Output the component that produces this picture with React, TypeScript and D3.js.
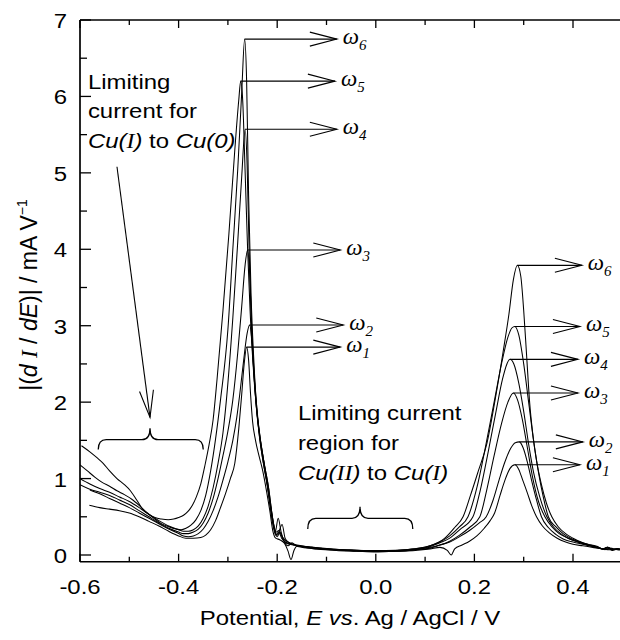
import React from "react";
import * as d3 from "d3";

// ---------- data ----------
const xTickValues = [-0.6, -0.5, -0.4, -0.3, -0.2, -0.1, 0.0, 0.1, 0.2, 0.3, 0.4, 0.5];
const xTickLabels = ["-0.6", "-0.4", "-0.2", "0.0", "0.2", "0.4"];
const xLabelValues = [-0.6, -0.4, -0.2, 0.0, 0.2, 0.4];
const yTickValues = [0, 0.5, 1, 1.5, 2, 2.5, 3, 3.5, 4, 4.5, 5, 5.5, 6, 6.5, 7];
const yTickLabels = ["0", "1", "2", "3", "4", "5", "6", "7"];

const seriesNames = ["1", "2", "3", "4", "5", "6"];

const w1: [number, number][] = [[-0.581,0.65],[-0.56,0.62],[-0.54,0.6],[-0.52,0.58],[-0.50,0.55],[-0.48,0.5],[-0.46,0.44],[-0.44,0.38],[-0.42,0.31],[-0.40,0.25],[-0.385,0.22],[-0.37,0.22],[-0.355,0.23],[-0.345,0.26],[-0.335,0.33],[-0.325,0.45],[-0.315,0.62],[-0.305,0.80],[-0.295,1.0],[-0.286,1.2],[-0.278,1.65],[-0.272,2.1],[-0.267,2.5],[-0.262,2.72],[-0.258,2.55],[-0.254,2.1],[-0.250,1.75],[-0.244,1.5],[-0.237,1.3],[-0.230,1.12],[-0.222,0.85],[-0.215,0.58],[-0.209,0.32],[-0.203,0.22],[-0.195,0.2],[-0.185,0.15],[-0.178,0.05],[-0.172,-0.06],[-0.166,0.06],[-0.158,0.12],[-0.145,0.10],[-0.12,0.08],[-0.08,0.06],[-0.04,0.05],[0.0,0.04],[0.04,0.05],[0.08,0.06],[0.11,0.08],[0.13,0.1],[0.145,0.06],[0.153,0.0],[0.16,0.08],[0.175,0.13],[0.19,0.18],[0.205,0.25],[0.22,0.35],[0.232,0.45],[0.241,0.55],[0.252,0.78],[0.262,0.98],[0.272,1.13],[0.282,1.18],[0.290,1.12],[0.298,0.98],[0.307,0.82],[0.316,0.65],[0.326,0.5],[0.338,0.38],[0.352,0.29],[0.368,0.22],[0.385,0.17],[0.40,0.14],[0.42,0.12],[0.44,0.10],[0.46,0.08],[0.475,0.07],[0.49,0.08],[0.50,0.07]];

const w2: [number, number][] = [[-0.58,0.85],[-0.56,0.80],[-0.54,0.74],[-0.52,0.68],[-0.50,0.62],[-0.48,0.55],[-0.46,0.48],[-0.44,0.41],[-0.42,0.34],[-0.40,0.28],[-0.39,0.25],[-0.38,0.24],[-0.37,0.25],[-0.36,0.28],[-0.35,0.34],[-0.34,0.44],[-0.33,0.58],[-0.32,0.76],[-0.31,0.98],[-0.30,1.22],[-0.29,1.5],[-0.282,1.8],[-0.276,2.1],[-0.268,2.55],[-0.261,2.9],[-0.256,3.01],[-0.252,2.85],[-0.248,2.45],[-0.243,2.0],[-0.236,1.6],[-0.229,1.3],[-0.222,1.0],[-0.215,0.7],[-0.209,0.42],[-0.204,0.3],[-0.198,0.48],[-0.192,0.3],[-0.186,0.18],[-0.178,0.12],[-0.17,0.16],[-0.162,0.12],[-0.15,0.1],[-0.12,0.08],[-0.08,0.07],[-0.04,0.05],[0.0,0.05],[0.04,0.05],[0.08,0.07],[0.11,0.09],[0.13,0.13],[0.15,0.17],[0.17,0.24],[0.19,0.32],[0.21,0.42],[0.224,0.5],[0.238,0.72],[0.25,0.98],[0.262,1.22],[0.274,1.4],[0.283,1.47],[0.291,1.48],[0.299,1.4],[0.308,1.2],[0.317,0.95],[0.326,0.72],[0.336,0.5],[0.35,0.36],[0.365,0.27],[0.38,0.21],[0.40,0.17],[0.42,0.14],[0.44,0.11],[0.46,0.08],[0.47,0.09],[0.48,0.06],[0.49,0.08],[0.50,0.07]];

const w3: [number, number][] = [[-0.6,0.92],[-0.58,0.86],[-0.56,0.82],[-0.54,0.78],[-0.52,0.72],[-0.50,0.66],[-0.48,0.58],[-0.46,0.5],[-0.44,0.42],[-0.42,0.35],[-0.40,0.30],[-0.39,0.28],[-0.38,0.28],[-0.37,0.30],[-0.36,0.34],[-0.35,0.42],[-0.34,0.55],[-0.33,0.74],[-0.32,1.0],[-0.31,1.3],[-0.30,1.62],[-0.29,2.03],[-0.28,2.65],[-0.272,3.25],[-0.265,3.8],[-0.26,3.99],[-0.256,3.7],[-0.252,3.0],[-0.247,2.4],[-0.241,1.9],[-0.234,1.5],[-0.226,1.18],[-0.218,0.9],[-0.212,0.6],[-0.206,0.35],[-0.2,0.26],[-0.19,0.40],[-0.184,0.22],[-0.176,0.16],[-0.165,0.13],[-0.15,0.11],[-0.12,0.09],[-0.08,0.07],[-0.04,0.06],[0.0,0.05],[0.04,0.05],[0.08,0.07],[0.11,0.1],[0.13,0.13],[0.15,0.18],[0.17,0.26],[0.19,0.36],[0.211,0.5],[0.225,0.85],[0.24,1.3],[0.255,1.72],[0.268,2.0],[0.279,2.12],[0.288,2.02],[0.297,1.78],[0.307,1.42],[0.318,1.02],[0.33,0.7],[0.343,0.5],[0.357,0.37],[0.372,0.28],[0.39,0.22],[0.41,0.17],[0.43,0.13],[0.45,0.1],[0.465,0.07],[0.475,0.09],[0.49,0.07],[0.5,0.06]];

const w4: [number, number][] = [[-0.6,1.0],[-0.58,0.93],[-0.56,0.87],[-0.54,0.82],[-0.52,0.76],[-0.50,0.70],[-0.48,0.62],[-0.46,0.53],[-0.44,0.45],[-0.42,0.38],[-0.40,0.33],[-0.39,0.31],[-0.38,0.31],[-0.37,0.33],[-0.36,0.38],[-0.35,0.48],[-0.34,0.64],[-0.33,0.88],[-0.32,1.2],[-0.31,1.6],[-0.303,2.03],[-0.29,3.1],[-0.28,4.1],[-0.272,4.95],[-0.265,5.57],[-0.261,5.1],[-0.257,4.0],[-0.252,3.0],[-0.247,2.35],[-0.241,1.85],[-0.233,1.45],[-0.225,1.15],[-0.217,0.86],[-0.211,0.56],[-0.205,0.32],[-0.2,0.24],[-0.194,0.3],[-0.188,0.2],[-0.18,0.15],[-0.165,0.13],[-0.15,0.11],[-0.12,0.09],[-0.08,0.07],[-0.04,0.06],[0.0,0.05],[0.04,0.06],[0.08,0.07],[0.11,0.11],[0.13,0.16],[0.15,0.22],[0.17,0.33],[0.197,0.5],[0.212,0.85],[0.228,1.35],[0.243,1.85],[0.257,2.3],[0.266,2.5],[0.272,2.56],[0.28,2.5],[0.29,2.25],[0.30,1.88],[0.31,1.45],[0.32,1.08],[0.333,0.75],[0.347,0.5],[0.36,0.37],[0.375,0.28],[0.39,0.22],[0.41,0.17],[0.43,0.13],[0.45,0.1],[0.46,0.08],[0.47,0.1],[0.48,0.07],[0.49,0.08],[0.5,0.07]];

const w5: [number, number][] = [[-0.597,1.43],[-0.58,1.35],[-0.565,1.27],[-0.553,1.2],[-0.54,1.1],[-0.525,1.0],[-0.51,0.92],[-0.499,0.85],[-0.485,0.72],[-0.472,0.59],[-0.46,0.53],[-0.448,0.49],[-0.435,0.47],[-0.421,0.46],[-0.41,0.47],[-0.40,0.49],[-0.39,0.52],[-0.381,0.57],[-0.372,0.65],[-0.364,0.76],[-0.355,0.93],[-0.347,1.16],[-0.338,1.45],[-0.33,1.77],[-0.322,2.3],[-0.31,3.2],[-0.298,4.2],[-0.286,5.3],[-0.278,5.95],[-0.274,6.2],[-0.27,5.95],[-0.265,5.0],[-0.26,4.0],[-0.255,3.2],[-0.249,2.5],[-0.243,1.98],[-0.236,1.55],[-0.228,1.2],[-0.22,0.9],[-0.214,0.62],[-0.208,0.38],[-0.203,0.26],[-0.197,0.3],[-0.191,0.22],[-0.183,0.17],[-0.17,0.14],[-0.155,0.12],[-0.13,0.1],[-0.1,0.08],[-0.06,0.07],[-0.02,0.06],[0.02,0.06],[0.06,0.07],[0.09,0.09],[0.11,0.12],[0.13,0.17],[0.15,0.25],[0.17,0.37],[0.187,0.5],[0.205,0.88],[0.222,1.4],[0.24,2.0],[0.255,2.5],[0.268,2.85],[0.276,2.97],[0.282,2.99],[0.29,2.88],[0.30,2.5],[0.31,2.0],[0.32,1.5],[0.33,1.08],[0.34,0.75],[0.35,0.5],[0.365,0.37],[0.38,0.28],[0.395,0.22],[0.41,0.18],[0.43,0.14],[0.45,0.11],[0.46,0.08],[0.47,0.1],[0.48,0.07],[0.49,0.08],[0.5,0.07]];

const w6: [number, number][] = [[-0.600,1.18],[-0.585,1.10],[-0.570,1.02],[-0.555,0.95],[-0.540,0.90],[-0.525,0.84],[-0.510,0.79],[-0.495,0.73],[-0.480,0.65],[-0.465,0.56],[-0.450,0.48],[-0.435,0.41],[-0.420,0.37],[-0.405,0.34],[-0.395,0.33],[-0.385,0.35],[-0.375,0.39],[-0.365,0.46],[-0.355,0.58],[-0.345,0.78],[-0.335,1.10],[-0.325,1.52],[-0.315,2.03],[-0.300,2.95],[-0.290,4.00],[-0.280,5.05],[-0.272,6.05],[-0.266,6.75],[-0.262,6.20],[-0.258,4.70],[-0.253,3.40],[-0.248,2.62],[-0.243,2.05],[-0.236,1.55],[-0.228,1.20],[-0.220,0.92],[-0.213,0.62],[-0.207,0.40],[-0.202,0.30],[-0.197,0.32],[-0.192,0.26],[-0.185,0.20],[-0.175,0.16],[-0.160,0.13],[-0.140,0.11],[-0.110,0.09],[-0.070,0.07],[-0.030,0.06],[0.000,0.05],[0.040,0.06],[0.080,0.08],[0.110,0.12],[0.140,0.22],[0.160,0.36],[0.177,0.50],[0.192,0.78],[0.208,1.10],[0.225,1.45],[0.242,2.03],[0.258,2.65],[0.270,3.15],[0.279,3.60],[0.287,3.79],[0.294,3.65],[0.300,3.20],[0.306,2.60],[0.312,2.00],[0.319,1.55],[0.327,1.20],[0.336,0.92],[0.346,0.68],[0.357,0.50],[0.370,0.37],[0.385,0.28],[0.400,0.22],[0.420,0.16],[0.435,0.13],[0.450,0.10],[0.460,0.08],[0.470,0.10],[0.480,0.07],[0.490,0.08],[0.500,0.07]];

const seriesData = [w1, w2, w3, w4, w5, w6];
// arrow tips (potential, V) for the labels of the two peaks
const leftArrowTips = [-0.072, -0.066, -0.072, -0.079, -0.083, -0.079];
const rightArrowTips = [0.414, 0.42, 0.41, 0.41, 0.414, 0.418];

// ---------- layout ----------
const W = 620, H = 640;
const x = d3.scaleLinear().domain([-0.6, 0.5]).range([80, 622.3]);
const y = d3.scaleLinear().domain([0, 7]).range([555, 20]);
const yBottom = y(-0.088);
const yTop = y(7);
const SANS = "'Liberation Sans', Arial, Helvetica, sans-serif";
const SERIF = "'Liberation Serif', 'Times New Roman', serif";
const SX = 1.14;

const line = d3
  .line<[number, number]>()
  .x((d) => x(d[0]))
  .y((d) => y(d[1]))
  .curve(d3.curveMonotoneX);

function Arrowhead({ x1, y1, x2, y2, len = 27, half = 7 }: any) {
  const dx = x2 - x1, dy = y2 - y1;
  const L = Math.hypot(dx, dy);
  const ux = dx / L, uy = dy / L;
  const px = -uy, py = ux;
  const bx = x2 - ux * len, by = y2 - uy * len;
  return (
    <polyline
      points={`${bx + px * half},${by + py * half} ${x2},${y2} ${bx - px * half},${by - py * half}`}
      fill="none"
      stroke="#000"
      strokeWidth={1.1}
    />
  );
}

function Brace({ xL, xR, xM, yEnd, yBar, yTip }: any) {
  const r = 8;
  const d = `M${xL},${yEnd} Q${xL},${yBar} ${xL + r},${yBar} L${xM - r},${yBar} Q${xM},${yBar} ${xM},${yTip} Q${xM},${yBar} ${xM + r},${yBar} L${xR - r},${yBar} Q${xR},${yBar} ${xR},${yEnd}`;
  return <path d={d} fill="none" stroke="#000" strokeWidth={1.3} />;
}

function T({ x0, y0, anchor = "start", size = 21, sx = SX, children, rotate = false }: any) {
  return (
    <g transform={`translate(${x0},${y0}) scale(${sx},1)${rotate ? " rotate(-90)" : ""}`}>
      <text x={0} y={0} textAnchor={anchor} fontFamily={SANS} fontSize={size} fill="#000">
        {children}
      </text>
    </g>
  );
}

export default function App() {
  const peaks = seriesData.map((s, i) => {
    const left = s.filter((d) => d[0] < 0).reduce((a, b) => (b[1] > a[1] ? b : a));
    const right = s.filter((d) => d[0] > 0).reduce((a, b) => (b[1] > a[1] ? b : a));
    return { left, right, name: seriesNames[i], lt: leftArrowTips[i], rt: rightArrowTips[i] };
  });

  const ann1X = x(-0.584);
  const ann2X = x(-0.158);

  return (
    <svg width={W} height={H} style={{ display: "block", position: "absolute", left: 0, top: 0 }}>
      <rect x={0} y={0} width={W} height={H} fill="#fff" />
      <defs>
        <clipPath id="plot">
          <rect x={80} y={yTop} width={W - 80} height={yBottom - yTop} />
        </clipPath>
      </defs>

      {/* curves */}
      <g clipPath="url(#plot)">
        {seriesData.map((s, i) => (
          <path key={i} d={line(s) || ""} fill="none" stroke="#000" strokeWidth={1.05} />
        ))}
      </g>

      {/* peak arrows */}
      {peaks.map((p, i) => (
        <g key={i}>
          {[
            [p.left, p.lt],
            [p.right, p.rt],
          ].map(([pk, tip]: any, j) => {
            const yy = y(pk[1]);
            const xt = x(tip);
            return (
              <g key={j}>
                <line x1={x(pk[0])} y1={yy} x2={xt} y2={yy} stroke="#000" strokeWidth={1.1} />
                <Arrowhead x1={x(pk[0])} y1={yy} x2={xt} y2={yy} />
                <text x={xt + 6} y={yy + 5} fontFamily={SERIF} fontStyle="italic" fontSize={23} fill="#000">
                  ω
                  <tspan fontSize={15} dy={6}>
                    {p.name}
                  </tspan>
                </text>
              </g>
            );
          })}
        </g>
      ))}

      {/* axes */}
      <g stroke="#000" strokeWidth={1.7} fill="none">
        <line x1={80} y1={yTop} x2={W} y2={yTop} />
        <line x1={80} y1={yBottom} x2={W} y2={yBottom} />
        <line x1={80} y1={yTop} x2={80} y2={yBottom} />
      </g>
      <g stroke="#000" strokeWidth={1.3}>
        {xTickValues.map((v, i) => {
          const major = Math.abs(Math.round(v * 10)) % 2 === 0;
          const len = major ? 8 : 5;
          return (
            <g key={i}>
              <line x1={x(v)} y1={yBottom} x2={x(v)} y2={yBottom - len} />
              <line x1={x(v)} y1={yTop} x2={x(v)} y2={yTop + len} />
            </g>
          );
        })}
        {yTickValues.map((v, i) => {
          const major = Number.isInteger(v);
          const len = major ? 11 : 7;
          return <line key={i} x1={80} y1={y(v)} x2={80 + len} y2={y(v)} />;
        })}
      </g>
      {xLabelValues.map((v, i) => (
        <T key={i} x0={x(v)} y0={594} anchor="middle">
          {xTickLabels[i]}
        </T>
      ))}
      {yTickLabels.map((t, i) => (
        <T key={i} x0={67} y0={y(+t) + 8} anchor="end">
          {t}
        </T>
      ))}

      {/* axis titles */}
      <T x0={350} y0={625} anchor="middle">
        Potential, <tspan fontStyle="italic">E vs</tspan>. Ag / AgCl / V
      </T>
      <T x0={37} y0={295} anchor="middle" size={23} sx={1} rotate>
        |(<tspan fontStyle="italic">d</tspan>{" "}
        <tspan fontFamily={SERIF} fontStyle="italic">I</tspan> / <tspan fontStyle="italic">dE</tspan>)| / mA V
        <tspan fontSize={14} dy={-10}>−1</tspan>
      </T>

      {/* annotation 1 */}
      <T x0={ann1X} y0={89}>Limiting</T>
      <T x0={ann1X} y0={118}>current for</T>
      <T x0={ann1X} y0={148}>
        <tspan fontStyle="italic">Cu(</tspan>
        <tspan fontFamily={SERIF} fontStyle="italic">I</tspan>
        <tspan fontStyle="italic">)</tspan> to <tspan fontStyle="italic">Cu(0)</tspan>
      </T>
      <line x1={x(-0.525)} y1={y(5.08)} x2={x(-0.458)} y2={y(1.8)} stroke="#000" strokeWidth={1.1} />
      <Arrowhead x1={x(-0.525)} y1={y(5.08)} x2={x(-0.458)} y2={y(1.8)} />
      <Brace xL={x(-0.563)} xR={x(-0.35)} xM={x(-0.458)} yEnd={y(1.38)} yBar={y(1.51)} yTip={y(1.66)} />

      {/* annotation 2 */}
      <T x0={ann2X} y0={420}>Limiting current</T>
      <T x0={ann2X} y0={450}>region for</T>
      <T x0={ann2X} y0={480}>
        <tspan fontStyle="italic">Cu(</tspan>
        <tspan fontFamily={SERIF} fontStyle="italic">II</tspan>
        <tspan fontStyle="italic">)</tspan> to <tspan fontStyle="italic">Cu(</tspan>
        <tspan fontFamily={SERIF} fontStyle="italic">I</tspan>
        <tspan fontStyle="italic">)</tspan>
      </T>
      <Brace xL={x(-0.138)} xR={x(0.075)} xM={x(-0.032)} yEnd={y(0.34)} yBar={y(0.48)} yTip={y(0.63)} />
    </svg>
  );
}
